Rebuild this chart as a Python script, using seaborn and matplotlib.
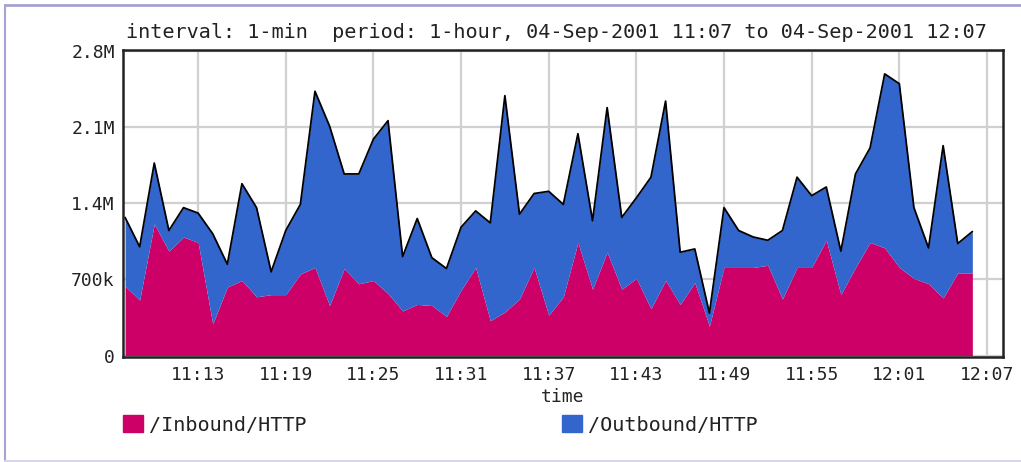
import pandas as pd
import matplotlib
matplotlib.use('Agg')
import matplotlib.pyplot as plt
import seaborn as sns
from matplotlib.patches import Patch
from matplotlib.lines import Line2D

# 每分钟流量 (单位 k)，11:08 - 12:06
minutes = list(range(1, 60))
inbound = [640, 510, 1210, 960, 1090, 1040, 290, 630, 690, 540,
           560, 560, 750, 810, 460, 800, 660, 690, 570, 410,
           470, 460, 360, 600, 810, 320, 400, 520, 810, 370,
           540, 1040, 610, 950, 610, 710, 430, 690, 470, 670,
           270, 810, 810, 810, 830, 520, 810, 810, 1060, 560,
           810, 1040, 990, 810, 710, 660, 530, 760, 760]
outbound = [630, 490, 560, 190, 270, 270, 830, 210, 890, 820,
            210, 590, 640, 1620, 1650, 870, 1010, 1300, 1590, 500,
            790, 440, 440, 580, 520, 900, 1990, 780, 680, 1140,
            850, 1000, 630, 1330, 660, 740, 1210, 1650, 480, 310,
            120, 550, 340, 280, 230, 630, 830, 660, 490, 400,
            860, 870, 1600, 1690, 650, 330, 1400, 270, 380]

tick_pos = [6, 12, 18, 24, 30, 36, 42, 48, 54, 60]
tick_labels = ['11:13', '11:19', '11:25', '11:31', '11:37',
               '11:43', '11:49', '11:55', '12:01', '12:07']
y_ticks = [0, 700, 1400, 2100, 2800]
y_labels = ['0', '700k', '1.4M', '2.1M', '2.8M']
series_names = ['/Inbound/HTTP', '/Outbound/HTTP']
colors = ['#CC0066', '#3366CC']

df = pd.DataFrame({'minute': minutes, 'in': inbound, 'out': outbound})
df['total'] = df['in'] + df['out']

sns.set_theme(style='whitegrid')
plt.rcParams['font.family'] = ['DejaVu Sans Mono']
plt.rcParams['font.size'] = 13

fig = plt.figure(figsize=(10.21, 4.62), dpi=100)
ax = fig.add_axes([0.1205, 0.2262, 0.8619, 0.6656])

# 堆叠面积
ax.stackplot(df['minute'], df['in'], df['out'], colors=colors, linewidth=0)
sns.lineplot(data=df, x='minute', y='total', color='black', lw=1.3, ax=ax)

ax.set_xlim(0.86, 61.1)
ax.set_ylim(-18, 2810)
ax.set_xticks(tick_pos)
ax.set_xticklabels(tick_labels)
ax.set_yticks(y_ticks)
ax.set_yticklabels(y_labels)
ax.tick_params(length=0, pad=6, labelsize=13, colors='#222222')
ax.grid(True, color='#d0d0d0', lw=1.6)
ax.set_axisbelow(True)
ax.set_xlabel('time', fontsize=13, labelpad=3)
ax.set_ylabel('')
for sp in ax.spines.values():
    sp.set_visible(True)
    sp.set_color('#222222')
    sp.set_linewidth(1.8)

fig.text(556 / 1021, 1 - 33 / 462,
         'interval: 1-min  period: 1-hour, 04-Sep-2001 11:07 to 04-Sep-2001 12:07',
         ha='center', va='center', fontsize=14.5, color='#222222')

# 图例：两项分开放
for name, col, x0 in zip(series_names, colors, [123, 562]):
    leg = fig.legend(handles=[Patch(color=col)], labels=[name],
                     loc='center left', bbox_to_anchor=(x0 / 1021, 1 - 425 / 462),
                     frameon=False, borderpad=0, borderaxespad=0,
                     handlelength=1.0, handleheight=0.9, handletextpad=0.3,
                     fontsize=14.5)
    for t in leg.get_texts():
        t.set_color('#222222')

# 外框（右侧没有）
x_l, y_t, y_b = 4.5 / 1021, 1 - 5 / 462, 1 - 460.5 / 462
fig.add_artist(Line2D([x_l, 1], [y_t, y_t], color='#a6a2d4', lw=2))
fig.add_artist(Line2D([x_l, x_l], [y_t, y_b], color='#a6a2d4', lw=1.5))
fig.add_artist(Line2D([x_l, 1], [y_b, y_b], color='#d8d6e6', lw=1.5))

fig.savefig('out.png', dpi=100, facecolor='white')
